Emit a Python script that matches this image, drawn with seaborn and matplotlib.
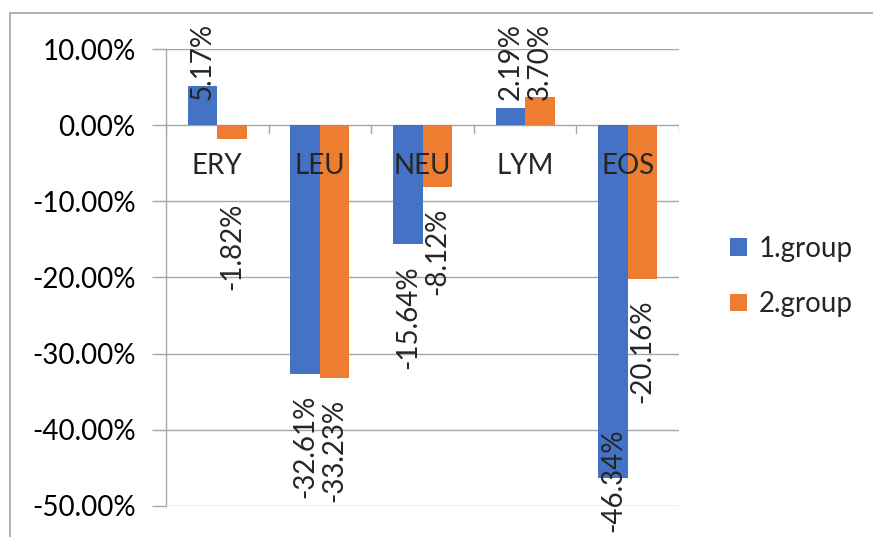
import pandas as pd
import matplotlib.pyplot as plt
import seaborn as sns
from matplotlib.lines import Line2D
from matplotlib.ticker import FuncFormatter

# values in percent
categories = ["ERY", "LEU", "NEU", "LYM", "EOS"]
groups = ["1.group", "2.group"]
group1 = [5.17, -32.61, -15.64, 2.19, -46.34]
group2 = [-1.82, -33.23, -8.12, 3.70, -20.16]

df = pd.DataFrame({
    "category": categories * 2,
    "group": [groups[0]] * len(categories) + [groups[1]] * len(categories),
    "value": group1 + group2,
})

sns.set_theme(style="white")
plt.rcParams["font.family"] = ["Lato", "DejaVu Sans"]

grid_col = "#A6A6A6"
fs = 20

fig = plt.figure(figsize=(8.73, 5.37), dpi=100)
ax = fig.add_axes([166 / 873, 1 - 506 / 537, (679 - 166) / 873, (506 - 49) / 537])

sns.barplot(data=df, x="category", y="value", hue="group", order=categories,
            hue_order=groups, palette=["#4472C4", "#ED7D31"], saturation=1,
            width=0.575, linewidth=0, ax=ax, zorder=2)

ax.set_ylim(-50, 10)
ax.set_xlim(-0.5, len(categories) - 0.5)
ax.set_yticks(range(-50, 11, 10))
ax.yaxis.set_major_formatter(FuncFormatter(lambda v, p: f"{v:.2f}%"))
ax.tick_params(axis="y", length=10, width=1, color=grid_col, pad=12,
               labelsize=fs, labelcolor="black", left=True)
ax.set_xticks([])
ax.set_xlabel("")
ax.set_ylabel("")
ax.grid(axis="y", color=grid_col, linewidth=1, zorder=0)
ax.set_axisbelow(True)
for s in ["top", "right", "bottom"]:
    ax.spines[s].set_visible(False)
ax.spines["left"].set_color(grid_col)
ax.spines["left"].set_linewidth(1)

# category separators on the zero line
for i in range(len(categories) + 1):
    ax.plot([i - 0.5, i - 0.5], [0, -1.05], color=grid_col, lw=1, zorder=1)

# category names just under the zero line
for i, c in enumerate(categories):
    ax.text(i, -5.4, c, ha="center", va="center", fontsize=fs, zorder=5)

# data labels
for cont, vals in zip(ax.containers, [group1, group2]):
    for bar, v in zip(cont, vals):
        x = bar.get_x() + bar.get_width() / 2
        txt = f"{v:.2f}%"
        if v >= 0:
            ax.text(x, 3.3, txt, rotation=90, ha="center", va="bottom",
                    fontsize=fs, zorder=5, clip_on=False)
        elif v < -40:
            ax.text(x, -53.4, txt, rotation=90, ha="center", va="bottom",
                    fontsize=fs, zorder=5, clip_on=False)
        else:
            ax.text(x, min(v - 2.75, -10.2), txt, rotation=90, ha="center",
                    va="top", fontsize=fs, zorder=5, clip_on=False)

handles, labels = ax.get_legend_handles_labels()
ax.legend(handles, labels, loc="center left", bbox_to_anchor=(730 / 873, 0.485),
          bbox_transform=fig.transFigure, frameon=False, fontsize=fs,
          handlelength=0.6, handleheight=0.6, handletextpad=0.45,
          labelspacing=1.05, borderpad=0, borderaxespad=0)

# chart area border (top and left)
fig.add_artist(Line2D([10 / 873, 1], [1 - 13 / 537, 1 - 13 / 537], color=grid_col, lw=1.2))
fig.add_artist(Line2D([10 / 873, 10 / 873], [0, 1 - 13 / 537], color=grid_col, lw=1.2))

fig.savefig("out.png", dpi=100)
